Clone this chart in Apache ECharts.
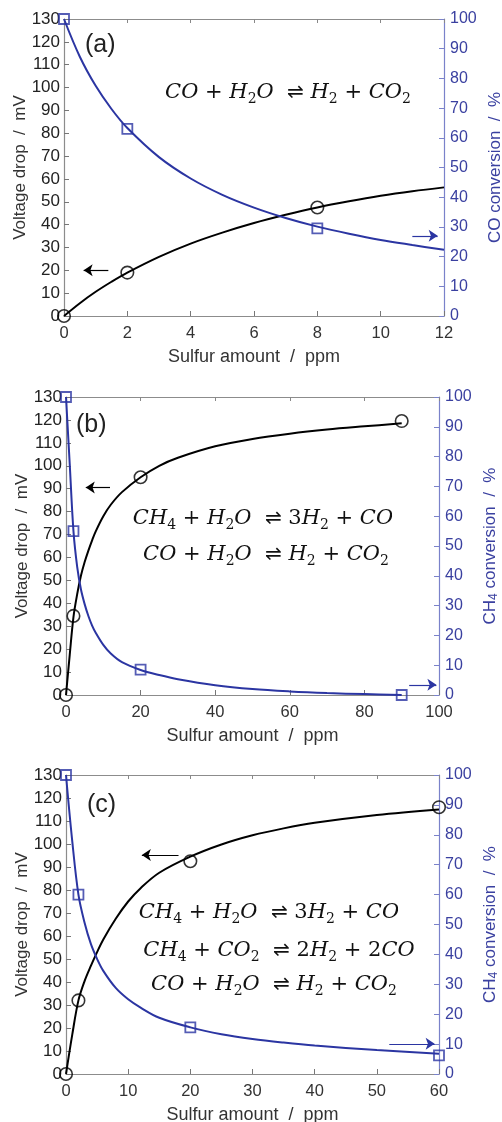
<!DOCTYPE html>
<html><head><meta charset="utf-8">
<script src="https://cdn.jsdelivr.net/npm/echarts@6/dist/echarts.min.js"></script>
<style>html,body{margin:0;padding:0;background:#fff}#c{width:502px;height:1122px}</style>
</head><body><div id="c"></div><script>
// ---------- data ----------
// panel (a)
const aPtsX = [0, 2, 8];
const aVolt = [0, 19, 47.5];
const aConv = [100, 63, 29.5];
const aFitX = [0, 0.5, 1, 1.5, 2, 3, 4, 5, 6, 7, 8, 9, 10, 11, 12];
const aVoltFit = [0, 5.6, 10.6, 15, 19, 25.9, 31.7, 36.5, 40.7, 44.3, 47.5, 50.2, 52.6, 54.6, 56.3];
const aConvFit = [100, 87.3, 77.5, 69.7, 63.3, 53.5, 46.3, 40.8, 36.5, 33, 30.1, 27.7, 25.6, 23.9, 22.3];
// panel (b)
const bPtsX = [0, 2, 20, 90];
const bVolt = [0, 34.5, 95, 119.5];
const bConv = [100, 55, 8.5, 0];
const bFitX = [0, 1, 2, 3, 4, 5, 6, 7, 8, 10, 12, 15, 20, 25, 30, 40, 50, 60, 70, 80, 90];
const bVoltFit = [0, 17.5, 34, 44, 52, 58, 63, 67.5, 71.5, 78, 83, 88.5, 95, 100, 103.5, 108.5, 111.7, 114, 115.8, 117.2, 118.5];
const bConvFit = [100, 77.5, 55, 43, 35.5, 30.5, 26.5, 23.3, 20.8, 16.8, 13.9, 11, 8.4, 6.7, 5.3, 3.3, 2, 1.2, 0.65, 0.3, 0];
// panel (c)
const cPtsX = [0, 2, 20, 60];
const cVolt = [0, 32, 92.5, 116];
const cConv = [100, 60, 15.6, 6.2];
const cFitX = [0, 1, 2, 3, 4, 5, 6, 8, 10, 12, 15, 20, 25, 30, 35, 40, 50, 60];
const cVoltFit = [0, 17, 32, 40.5, 47, 53, 58.5, 67.5, 75, 80.8, 87.5, 94.5, 99.8, 103.8, 106.8, 109.2, 112.6, 115];
const cConvFit = [100, 78, 60, 50.5, 43.5, 38.5, 34.5, 28.8, 25, 22.2, 18.8, 15.6, 13.3, 11.7, 10.5, 9.5, 8, 6.8];
// axes
const xMaxs = [12, 100, 60];
const xIntervals = [2, 20, 10];
const leftMax = 130, leftStep = 10;
const rightMax = 100, rightStep = 10;
const panelLabels = ['(a)', '(b)', '(c)'];
const rightNames = ['{n|CO conversion  /  %}', '{n|CH}{s|4}{n| conversion  /  %}', '{n|CH}{s|4}{n| conversion  /  %}'];
// arrows [x1,y1,x2,y2] (data units)
const blackArrows = [[1.4, 20, 0.62, 20], [11.8, 90.5, 5.3, 90.5], [18.1, 95.2, 12.2, 95.2]];
const blueArrows = [[11.0, 27, 11.8, 27], [92, 3.4, 99.3, 3.4], [52.0, 10.1, 59.3, 10.1]];

const SANS = '"Liberation Sans", Arial, sans-serif';
const SERIF = '"DejaVu Serif", serif';
const BLUE = '#2B35A2';
const BLUE_LBL = '#3A40A0';
const BLUE_AX = '#7A82CA';
const GRAY_AX = '#8C8C8C';

const zip = (xs, ys) => xs.map((x, i) => [x, ys[i]]);

const panels = [
  {ptsX: aPtsX, volt: aVolt, conv: aConv, fitX: aFitX, voltFit: aVoltFit, convFit: aConvFit},
  {ptsX: bPtsX, volt: bVolt, conv: bConv, fitX: bFitX, voltFit: bVoltFit, convFit: bConvFit},
  {ptsX: cPtsX, volt: cVolt, conv: cConv, fitX: cFitX, voltFit: cVoltFit, convFit: cConvFit}
];

const grids = [
  {left: 64, top: 19, width: 380, height: 297, outerBoundsMode: 'none', containLabel: false},
  {left: 66, top: 397, width: 373, height: 298, outerBoundsMode: 'none', containLabel: false},
  {left: 66, top: 775, width: 373, height: 299, outerBoundsMode: 'none', containLabel: false}
];

const xAxes = [], yAxes = [], series = [];
panels.forEach((p, i) => {
  xAxes.push({
    type: 'value', gridIndex: i, min: 0, max: xMaxs[i], interval: xIntervals[i], position: 'bottom',
    axisLine: {onZero: false, lineStyle: {color: GRAY_AX, width: 1.2}},
    axisTick: {inside: true, length: 5, lineStyle: {color: '#777'}},
    axisLabel: {color: '#333', fontSize: 16.5, margin: 9, fontFamily: SANS},
    splitLine: {show: false},
    name: 'Sulfur amount  /  ppm', nameLocation: 'middle', nameGap: 32, nameMoveOverlap: false,
    nameTextStyle: {color: '#333', fontSize: 18, fontFamily: SANS}
  });
  xAxes.push({
    type: 'value', gridIndex: i, min: 0, max: xMaxs[i], interval: xIntervals[i], position: 'top',
    axisLine: {onZero: false, lineStyle: {color: GRAY_AX, width: 1.2}},
    axisTick: {inside: true, length: 4, lineStyle: {color: '#888'}},
    axisLabel: {show: false}, splitLine: {show: false}
  });
  yAxes.push({
    type: 'value', gridIndex: i, min: 0, max: leftMax, interval: leftStep, position: 'left',
    axisLine: {show: true, onZero: false, lineStyle: {color: GRAY_AX, width: 1.2}},
    axisTick: {show: true, inside: true, length: 5, lineStyle: {color: '#777'}},
    axisLabel: {color: '#222', fontSize: 17, margin: 4, fontFamily: SANS},
    splitLine: {show: false},
    name: 'Voltage drop  /  mV', nameLocation: 'middle', nameGap: 35, nameRotate: 90, nameMoveOverlap: false,
    nameTextStyle: {color: '#333', fontSize: 17, fontFamily: SANS}
  });
  yAxes.push({
    type: 'value', gridIndex: i, min: 0, max: rightMax, interval: rightStep, position: 'right',
    axisLine: {show: true, onZero: false, lineStyle: {color: BLUE_AX, width: 1.2}},
    axisTick: {show: true, inside: true, length: 5, lineStyle: {color: BLUE_AX}},
    axisLabel: {color: BLUE_LBL, fontSize: 16, margin: 6, fontFamily: SANS},
    splitLine: {show: false},
    name: rightNames[i], nameLocation: 'middle', nameGap: 41, nameRotate: 90, nameMoveOverlap: false,
    nameTextStyle: {
      color: BLUE_LBL, fontSize: 17, fontFamily: SANS,
      rich: {
        n: {color: BLUE_LBL, fontSize: 17, fontFamily: SANS, lineHeight: 20},
        s: {color: BLUE_LBL, fontSize: 12, fontFamily: SANS, lineHeight: 8, verticalAlign: 'bottom'}
      }
    }
  });
  const xi = 2 * i, yl = 2 * i, yr = 2 * i + 1;
  series.push({
    type: 'line', xAxisIndex: xi, yAxisIndex: yl, data: zip(p.fitX, p.voltFit),
    smooth: 0.35, symbol: 'none', lineStyle: {color: '#000', width: 2}, z: 3, silent: true
  });
  series.push({
    type: 'line', xAxisIndex: xi, yAxisIndex: yr, data: zip(p.fitX, p.convFit),
    smooth: 0.35, symbol: 'none', lineStyle: {color: BLUE, width: 2}, z: 3, silent: true
  });
  const ba = blackArrows[i], ua = blueArrows[i];
  series.push({
    type: 'scatter', xAxisIndex: xi, yAxisIndex: yl, data: zip(p.ptsX, p.volt), clip: false,
    symbol: 'circle', symbolSize: 12.5, z: 5, silent: true,
    itemStyle: {color: 'rgba(255,255,255,0)', borderColor: '#000', borderWidth: 1.6},
    markLine: {
      silent: true, animation: false, symbol: ['none', 'arrow'], symbolSize: 9, label: {show: false},
      lineStyle: {color: '#000', width: 1.2, type: 'solid'},
      data: [[{coord: [ba[0], ba[1]]}, {coord: [ba[2], ba[3]]}]]
    }
  });
  series.push({
    type: 'scatter', xAxisIndex: xi, yAxisIndex: yr, data: zip(p.ptsX, p.conv), clip: false,
    symbol: 'rect', symbolSize: 10, z: 5, silent: true,
    itemStyle: {color: 'rgba(255,255,255,0)', borderColor: BLUE, borderWidth: 1.8},
    markLine: {
      silent: true, animation: false, symbol: ['none', 'arrow'], symbolSize: 9, label: {show: false},
      lineStyle: {color: BLUE, width: 1.2, type: 'solid'},
      data: [[{coord: [ua[0], ua[1]]}, {coord: [ua[2], ua[3]]}]]
    }
  });
});

// equations (rich text)
const eqRich = {
  i: {fontFamily: SERIF, fontStyle: 'italic', fontSize: 21, lineHeight: 26, fill: '#111', color: '#111'},
  o: {fontFamily: SERIF, fontSize: 21, lineHeight: 26, fill: '#111', color: '#111'},
  r: {fontFamily: '"DejaVu Sans", sans-serif', fontSize: 20, lineHeight: 26, fill: '#111', color: '#111'},
  s: {fontFamily: SERIF, fontSize: 14, lineHeight: 10, verticalAlign: 'bottom', fill: '#111', color: '#111'}
};
const EQ_WGS = '{i|CO} {o|+} {i|H}{s|2}{i|O}  {r|⇌} {i|H}{s|2} {o|+} {i|CO}{s|2}';
const EQ_SMR = '{i|CH}{s|4} {o|+} {i|H}{s|2}{i|O}  {r|⇌} {o|3}{i|H}{s|2} {o|+} {i|CO}';
const EQ_DRY = '{i|CH}{s|4} {o|+} {i|CO}{s|2}  {r|⇌} {o|2}{i|H}{s|2} {o|+} {o|2}{i|CO}';
const equations = [
  [EQ_WGS, 288, 93],
  [EQ_SMR, 263, 519], [EQ_WGS, 266, 555],
  [EQ_SMR, 269, 913], [EQ_DRY, 279, 951], [EQ_WGS, 274, 985]
];
const labelPos = [[85, 45], [76, 425], [87, 805]];

const graphic = [];
equations.forEach(e => graphic.push({
  type: 'text', x: e[1], y: e[2], silent: true,
  style: {text: e[0], rich: eqRich, align: 'center', verticalAlign: 'middle', font: '21px ' + SERIF, fill: '#111'}
}));
labelPos.forEach((lp, i) => graphic.push({
  type: 'text', x: lp[0], y: lp[1], silent: true,
  style: {text: panelLabels[i], align: 'left', verticalAlign: 'middle', font: '25px ' + SANS, fill: '#222'}
}));

const chart = echarts.init(document.getElementById('c'), null, {renderer: 'canvas'});
chart.setOption({
  animation: false,
  backgroundColor: '#fff',
  grid: grids,
  xAxis: xAxes,
  yAxis: yAxes,
  series: series,
  graphic: graphic
});
</script></body></html>
